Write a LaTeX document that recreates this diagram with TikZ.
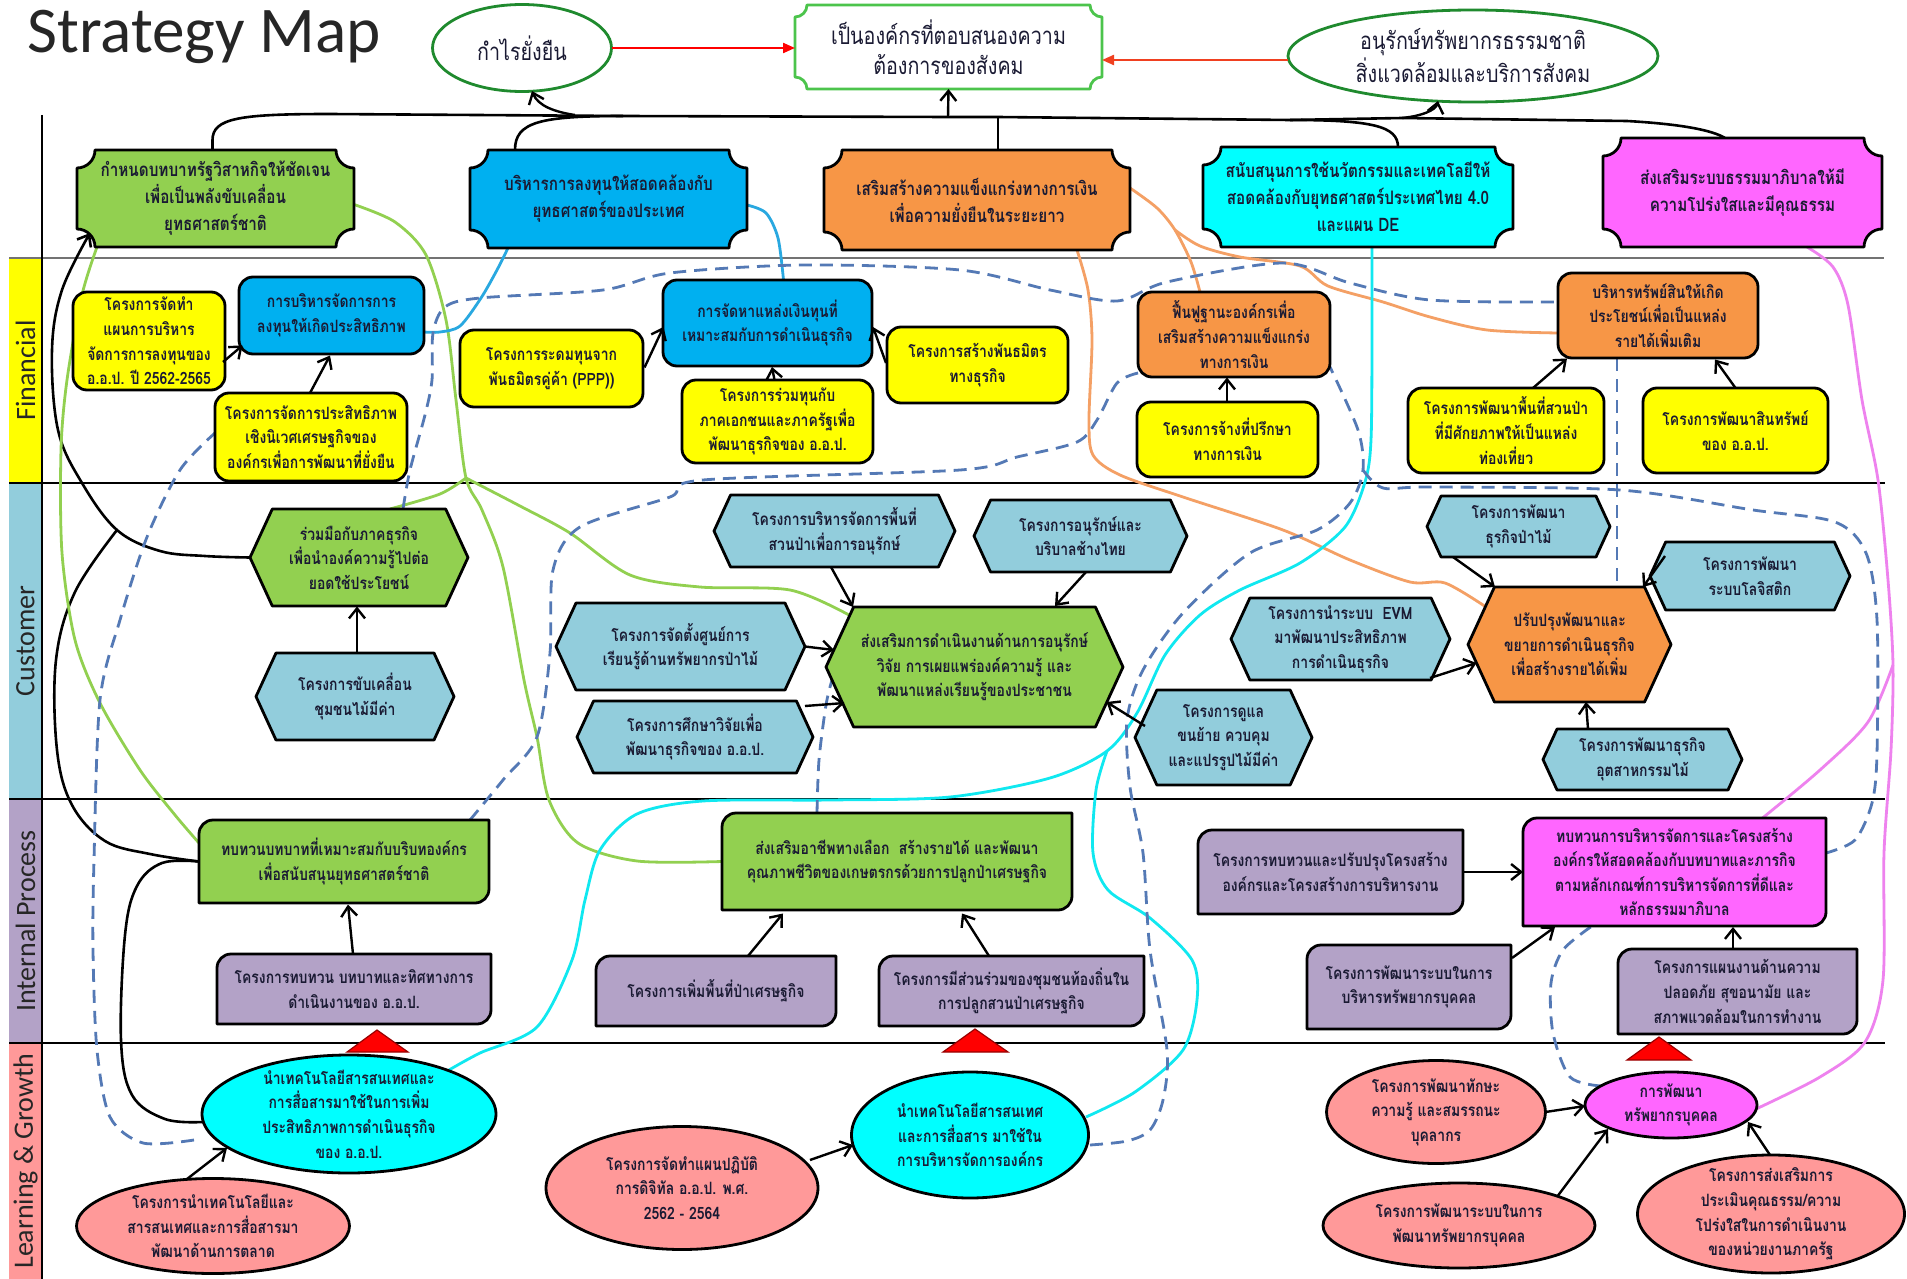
\documentclass[tikz,border=0pt]{standalone}
\usepackage{fontspec}
\setmainfont{Carlito}
\newfontfamily\thai[Script=Thai,FakeStretch=0.82]{Loma}
\usetikzlibrary{calc,arrows.meta}
\pgfdeclarelayer{lanes}
\pgfdeclarelayer{bg}
\pgfsetlayers{lanes,bg,main}
\definecolor{cgreen}{HTML}{92D050}
\definecolor{cblue}{HTML}{00B0F0}
\definecolor{corange}{HTML}{F79646}
\definecolor{ccyan}{HTML}{00FFFF}
\definecolor{cmag}{HTML}{FF66FF}
\definecolor{cyel}{HTML}{FFFF00}
\definecolor{clblue}{HTML}{92CDDC}
\definecolor{cpurp}{HTML}{B3A2C7}
\definecolor{cpink}{HTML}{FF9999}
\definecolor{dgreen}{HTML}{1F8A2E}
\definecolor{bgreen}{HTML}{4CC44C}
\definecolor{txtc}{HTML}{1A1A33}
\definecolor{lgline}{HTML}{92D050}
\definecolor{bline}{HTML}{29A8E0}
\definecolor{oline}{HTML}{F4A065}
\definecolor{cline}{HTML}{10E8F0}
\definecolor{vline}{HTML}{EE82EE}
\definecolor{dline}{HTML}{5479B5}
\definecolor{redA}{HTML}{FF0000}
\definecolor{redB}{HTML}{F04020}
\tikzset{
  sz/.style 2 args={minimum width=#1*0.5pt, minimum height=#2*0.5pt},
  txt/.style={font=\thai\bfseries\fontsize{8.5}{12.3}\selectfont, align=center, text=txtc, inner sep=0pt},
  cur/.style={},
  shapeline/.style={draw=black, line width=1.4pt, line join=round},
  arr/.style={draw=black, line width=1.2pt, -{Straight Barb[length=5pt,width=8pt]}},
  blk/.style={draw=black, line width=1.3pt},
  lgc/.style={draw=lgline, line width=1.4pt},
  bl/.style={draw=bline, line width=1.4pt},
  ol/.style={draw=oline, line width=1.4pt},
  cl/.style={draw=cline, line width=1.4pt},
  vl/.style={draw=vline, line width=1.4pt},
  dsh/.style={draw=dline, line width=1.4pt, dash pattern=on 6.5pt off 4pt},
  lanelbl/.style={rotate=90, font=\fontsize{14}{16}\selectfont, text=black!85},
  redarr/.style={line width=1.1pt, -{Triangle[length=6pt,width=5pt]}},
  tri/.style={fill=red, draw=red!60!black, line width=0.6pt},
}
% name, cx, cy, w, h, fill, text
\newcommand\hexn[7]{%
  \filldraw[shapeline, fill=#6] ({#2-#4/2},{#3}) -- ({#2-#4/2+0.23*#5},{#3-#5/2}) -- ({#2+#4/2-0.23*#5},{#3-#5/2}) -- ({#2+#4/2},{#3}) -- ({#2+#4/2-0.23*#5},{#3+#5/2}) -- ({#2-#4/2+0.23*#5},{#3+#5/2}) -- cycle;
  \node[txt, cur, sz={#4}{#5}] (#1) at (#2,#3) {#7};}
\newcommand\rboxn[7]{%
  \filldraw[shapeline, fill=#6, rounded corners=7pt] ({#2-#4/2},{#3-#5/2}) rectangle ({#2+#4/2},{#3+#5/2});
  \node[txt, cur, sz={#4}{#5}] (#1) at (#2,#3) {#7};}
\newcommand\diagn[7]{%
  \filldraw[shapeline, fill=#6] ({#2-#4/2+14},{#3-#5/2}) -- ({#2+#4/2},{#3-#5/2}) -- ({#2+#4/2},{#3+#5/2-14}) arc[start angle=0, end angle=-90, radius=7pt] -- ({#2-#4/2},{#3+#5/2}) -- ({#2-#4/2},{#3-#5/2+14}) arc[start angle=180, end angle=90, radius=7pt] -- cycle;
  \node[txt, cur, sz={#4}{#5}] (#1) at (#2,#3) {#7};}
% name, cx, cy, w, h, fill, draw, text
\newcommand\elln[8]{%
  \filldraw[line width=1.4pt, draw=#7, fill=#6] (#2,#3) ellipse [x radius={#4*0.25pt}, y radius={#5*0.25pt}];
  \node[txt, cur, sz={#4}{#5}] (#1) at (#2,#3) {#8};}
% name, cx, cy, w, h, fill, draw, r(px), text
\newcommand\plaquen[9]{%
  \filldraw[line width=1.4pt, line join=round, draw=#7, fill=#6] ({#2-#4/2+#8},{#3-#5/2}) -- ({#2+#4/2-#8},{#3-#5/2}) arc[start angle=180,end angle=270,radius={#8*0.5pt}] -- ({#2+#4/2},{#3+#5/2-#8}) arc[start angle=90,end angle=180,radius={#8*0.5pt}] -- ({#2-#4/2+#8},{#3+#5/2}) arc[start angle=0,end angle=90,radius={#8*0.5pt}] -- ({#2-#4/2},{#3-#5/2+#8}) arc[start angle=-90,end angle=0,radius={#8*0.5pt}] -- cycle;
  \node[txt, cur, sz={#4}{#5}] (#1) at (#2,#3) {#9};}

\begin{document}
\begin{tikzpicture}[x=0.5pt,y=-0.5pt]
\useasboundingbox (0,0) rectangle (1907,1279);
\begin{pgfonlayer}{lanes}
\fill[white] (0,0) rectangle (1907,1279);
\fill[cyel] (9,258) rectangle (42,483);
\fill[clblue] (9,483) rectangle (42,799);
\fill[cpurp] (9,799) rectangle (42,1043);
\fill[cpink] (9,1043) rectangle (42,1279);
\draw[black!55, line width=0.9pt] (9,258) -- (1884,258);
\draw[black, line width=1.2pt] (9,483) -- (1885,483);
\draw[black, line width=1.2pt] (9,799) -- (1885,799);
\draw[black, line width=1.2pt] (9,1043) -- (1885,1043);
\draw[black, line width=1.4pt] (42,115) -- (42,1279);
\end{pgfonlayer}

\node[anchor=base west, font=\fontsize{32.6}{38}\selectfont, text=black!85, inner sep=0pt] (title) at (27,53) {Strategy Map};
\node[lanelbl] (lfin) at (25.5,370.5) {Financial};
\node[lanelbl] (lcus) at (25.5,641) {Customer};
\node[lanelbl] (lint) at (25.5,921) {Internal Process};
\node[lanelbl] (llea) at (25.5,1161) {Learning \& Growth};

% top results
\tikzset{cur/.style={font=\thai\fontsize{12}{15}\selectfont}}
\elln{t1}{522}{48}{179}{87}{white}{dgreen}{กำไรยั่งยืน}
\plaquen{t2}{948.5}{47}{307}{84}{white}{bgreen}{12}{เป็นองค์กรที่ตอบสนองความ\\ต้องการของสังคม}
\elln{t3}{1473}{56}{370}{92}{white}{dgreen}{อนุรักษ์ทรัพยากรธรรมชาติ\\สิ่งแวดล้อมและบริการสังคม}

% objectives
\tikzset{cur/.style={font=\thai\bfseries\fontsize{9.3}{13.5}\selectfont}}
\plaquen{n1}{215.5}{198.5}{277}{97}{cgreen}{black}{18}{กำหนดบทบาทรัฐวิสาหกิจให้ชัดเจน\\เพื่อเป็นพลังขับเคลื่อน\\ยุทธศาสตร์ชาติ}
\plaquen{n2}{608.5}{199}{277}{98}{cblue}{black}{18}{บริหารการลงทุนให้สอดคล้องกับ\\ยุทธศาสตร์ของประเทศ}
\plaquen{n3}{977}{200}{306}{100}{corange}{black}{18}{เสริมสร้างความแข็งแกร่งทางการเงิน\\เพื่อความยั่งยืนในระยะยาว}
\plaquen{n4}{1358}{197}{310}{100}{ccyan}{black}{18}{สนับสนุนการใช้นวัตกรรมและเทคโลยีให้\\สอดคล้องกับยุทธศาสตร์ประเทศไทย 4.0\\และแผน DE}
\plaquen{n5}{1742.5}{192.5}{279}{109}{cmag}{black}{18}{ส่งเสริมระบบธรรมมาภิบาลให้มี\\ความโปร่งใสและมีคุณธรรม}
\tikzset{cur/.style={}}

% financial
\rboxn{f1}{149}{341}{152}{98}{cyel}{โครงการจัดทำ\\แผนการบริหาร\\จัดการการลงทุนของ\\อ.อ.ป. ปี 2562-2565}
\rboxn{f2}{331.5}{315.5}{185}{77}{cblue}{การบริหารจัดการการ\\ลงทุนให้เกิดประสิทธิภาพ}
\rboxn{f3}{311}{437}{192}{88}{cyel}{โครงการจัดการประสิทธิภาพ\\เชิงนิเวศเศรษฐกิจของ\\องค์กรเพื่อการพัฒนาที่ยั่งยืน}
\rboxn{f4}{551.5}{368.5}{183}{77}{cyel}{โครงการระดมทุนจาก\\พันธมิตรคู่ค้า (PPP))}
\rboxn{f5}{767.5}{323}{209}{86}{cblue}{การจัดหาแหล่งเงินทุนที่\\เหมาะสมกับการดำเนินธุรกิจ}
\rboxn{f6}{777.5}{421.5}{191}{83}{cyel}{โครงการร่วมทุนกับ\\ภาคเอกชนและภาครัฐเพื่อ\\พัฒนาธุรกิจของ อ.อ.ป.}
\rboxn{f7}{977.5}{365}{181}{76}{cyel}{โครงการสร้างพันธมิตร\\ทางธุรกิจ}
\rboxn{f8}{1234}{334.5}{192}{85}{corange}{ฟื้นฟูฐานะองค์กรเพื่อ\\เสริมสร้างความแข็งแกร่ง\\ทางการเงิน}
\rboxn{f9}{1227.5}{439.5}{181}{75}{cyel}{โครงการจ้างที่ปรึกษา\\ทางการเงิน}
\rboxn{f10}{1658}{315.5}{200}{85}{corange}{บริหารทรัพย์สินให้เกิด\\ประโยชน์เพื่อเป็นแหล่ง\\รายได้เพิ่มเติม}
\rboxn{f11}{1506}{430.5}{196}{85}{cyel}{โครงการพัฒนาพื้นที่สวนป่า\\ที่มีศักยภาพให้เป็นแหล่ง\\ท่องเที่ยว}
\rboxn{f12}{1735.5}{430.5}{185}{85}{cyel}{โครงการพัฒนาสินทรัพย์\\ของ อ.อ.ป.}

% customer
\hexn{c1}{359}{557.5}{218}{97}{cgreen}{ร่วมมือกับภาคธุรกิจ\\เพื่อนำองค์ความรู้ไปต่อ\\ยอดใช้ประโยชน์}
\hexn{c2}{355}{696.5}{198}{87}{clblue}{โครงการขับเคลื่อน\\ชุมชนไม้มีค่า}
\hexn{c3}{834.5}{531}{241}{72}{clblue}{โครงการบริหารจัดการพื้นที่\\สวนป่าเพื่อการอนุรักษ์}
\hexn{c4}{1080.5}{536}{213}{72}{clblue}{โครงการอนุรักษ์และ\\บริบาลช้างไทย}
\hexn{c5}{680.5}{646.5}{249}{87}{clblue}{โครงการจัดตั้งศูนย์การ\\เรียนรู้ด้านทรัพยากรป่าไม้}
\hexn{c6}{695}{737}{236}{72}{clblue}{โครงการศึกษาวิจัยเพื่อ\\พัฒนาธุรกิจของ อ.อ.ป.}
\hexn{c7}{974.5}{667}{297}{120}{cgreen}{ส่งเสริมการดำเนินงานด้านการอนุรักษ์\\วิจัย การเผยแพร่องค์ความรู้ และ\\พัฒนาแหล่งเรียนรู้ของประชาชน}
\hexn{c8}{1223.5}{737.5}{177}{95}{clblue}{โครงการดูแล\\ขนย้าย ควบคุม\\และแปรรูปไม้มีค่า}
\hexn{c9}{1340.5}{639}{219}{82}{clblue}{โครงการนำระบบ~ EVM\\มาพัฒนาประสิทธิภาพ\\การดำเนินธุรกิจ}
\hexn{c10}{1569.5}{644.5}{203}{115}{corange}{ปรับปรุงพัฒนาและ\\ขยายการดำเนินธุรกิจ\\เพื่อสร้างรายได้เพิ่ม}
\hexn{c11}{1518.5}{526.5}{183}{61}{clblue}{โครงการพัฒนา\\ธุรกิจป่าไม้}
\hexn{c12}{1750}{576}{200}{68}{clblue}{โครงการพัฒนา\\ระบบโลจิสติก}
\hexn{c13}{1642.5}{759.5}{199}{61}{clblue}{โครงการพัฒนาธุรกิจ\\อุตสาหกรรมไม้}

% internal process
\diagn{i1}{344}{861.5}{290}{83}{cgreen}{ทบทวนบทบาทที่เหมาะสมกับบริบทองค์กร\\เพื่อสนับสนุนยุทธศาสตร์ชาติ}
\diagn{i2}{897}{861.5}{350}{97}{cgreen}{ส่งเสริมอาชีพทางเลือก~ สร้างรายได้ และพัฒนา\\คุณภาพชีวิตของเกษตรกรด้วยการปลูกป่าเศรษฐกิจ}
\diagn{i3}{1330.5}{872}{265}{84}{cpurp}{โครงการทบทวนและปรับปรุงโครงสร้าง\\องค์กรและโครงสร้างการบริหารงาน}
\diagn{i4}{1674.5}{872}{303}{108}{cmag}{ทบทวนการบริหารจัดการและโครงสร้าง\\องค์กรให้สอดคล้องกับบทบาทและภารกิจ\\ตามหลักเกณฑ์การบริหารจัดการที่ดีและ\\หลักธรรมมาภิบาล}
\diagn{i5}{354}{989}{274}{70}{cpurp}{โครงการทบทวน บทบาทและทิศทางการ\\ดำเนินงานของ อ.อ.ป.}
\diagn{i6}{716}{991}{240}{70}{cpurp}{โครงการเพิ่มพื้นที่ป่าเศรษฐกิจ}
\diagn{i7}{1011.5}{991}{265}{70}{cpurp}{โครงการมีส่วนร่วมของชุมชนท้องถิ่นใน\\การปลูกสวนป่าเศรษฐกิจ}
\diagn{i8}{1409}{987}{204}{84}{cpurp}{โครงการพัฒนาระบบในการ\\บริหารทรัพยากรบุคคล}
\diagn{i9}{1737.5}{991.5}{239}{85}{cpurp}{โครงการแผนงานด้านความ\\ปลอดภัย สุขอนามัย และ\\สภาพแวดล้อมในการทำงาน}

% learning & growth
\elln{l1}{349}{1114}{294}{118}{ccyan}{black}{นำเทคโนโลยีสารสนเทศและ\\การสื่อสารมาใช้ในการเพิ่ม\\ประสิทธิภาพการดำเนินธุรกิจ\\ของ อ.อ.ป.}
\elln{l2}{213}{1226}{273}{95}{cpink}{black}{โครงการนำเทคโนโลยีและ\\สารสนเทศและการสื่อสารมา\\พัฒนาด้านการตลาด}
\elln{l3}{970}{1135}{237}{126}{ccyan}{black}{นำเทคโนโลยีสารสนเทศ\\และการสื่อสาร มาใช้ใน\\การบริหารจัดการองค์กร}
\elln{l4}{682}{1188}{272}{123}{cpink}{black}{โครงการจัดทำแผนปฏิบัติ\\การดิจิทัล อ.อ.ป. พ.ศ.\\2562 - 2564}
\elln{l5}{1436}{1112}{219}{103}{cpink}{black}{โครงการพัฒนาทักษะ\\ความรู้ และสมรรถนะ\\บุคลากร}
\elln{l6}{1671}{1105}{172}{66}{cmag}{black}{การพัฒนา\\ทรัพยากรบุคคล}
\elln{l7}{1459}{1225.5}{272}{85}{cpink}{black}{โครงการพัฒนาระบบในการ\\พัฒนาทรัพยากรบุคคล}
\elln{l8}{1771}{1214}{267}{118}{cpink}{black}{โครงการส่งเสริมการ\\ประเมินคุณธรรม/ความ\\โปร่งใสในการดำเนินงาน\\ของหน่วยงานภาครัฐ}

% triangles
\filldraw[tri] (347,1052) -- (377,1030) -- (408,1052) -- cycle;
\filldraw[tri] (943,1052) -- (975,1029) -- (1008,1052) -- cycle;
\filldraw[tri] (1627,1060) -- (1659,1037) -- (1691,1060) -- cycle;

% background connectors
\begin{pgfonlayer}{bg}
\coordinate (busL) at (330,114);
\coordinate (busM) at (623,116);
\coordinate (bus) at (948,117);
\coordinate (busN) at (998,117);
\coordinate (busP) at (1290,120);
\coordinate (busQ) at (1402,118);
\coordinate (busR) at (1627,121);
\coordinate (busA) at (575,115);
\draw[blk] ($(n1)+(-3,-48.5)$) -- (212.5,140) .. controls (212.5,118) and (240,114) .. (busL) -- (busM) -- (bus) -- (busN) -- (busP) -- (busQ) -- (busR) .. controls (1680,124) and (1712,130) .. ($(n5)+(-17.5,-54.5)$);
\draw[blk] ($(n2)+(-93.5,-49)$) .. controls (515,122) and (540,116) .. (busM);
\draw[blk] ($(n3)+(21,-50)$) -- (busN);
\draw[blk] ($(n4)+(40,-50)$) .. controls (1398,126) and (1372,120) .. (busP);

% black left curves
\coordinate (eA1) at ($(c1)+(-109,0)$);
\coordinate (eA2) at ($(n1)+(-125.5,34.5)$);
\coordinate (jA) at (117,530);
\draw[blk,-{Straight Barb[length=5pt,width=8pt]}] plot[smooth,tension=0.6] coordinates {(eA1) (205,556) (160,551) (jA) (82,483) (58,430) (52,350) (62,290) (eA2)};
\coordinate (eB1) at ($(i1)+(-145,0)$);
\draw[blk] plot[smooth,tension=0.6] coordinates {(eB1) (150,854) (105,841) (72,805) (57,750) (56,660) (75,592) (jA)};
\coordinate (eC2) at ($(l1)+(-146,8)$);
\draw[blk] plot[smooth,tension=0.6] coordinates {(eB1) (162,863) (137,886) (125,935) (121,1040) (132,1095) (165,1119) (eC2)};

% green
\coordinate (g1s) at ($(n1)+(-118.5,48.5)$);
\coordinate (g1e) at ($(i1)+(-145,-18.5)$);
\draw[lgc] plot[smooth] coordinates {(g1s) (82,295) (67,380) (61,450) (62,553) (75,640) (100,703) (140,770) (175,815) (g1e)};
\coordinate (g2s) at ($(n1)+(138.5,6)$);
\coordinate (gB) at (466,478);
\coordinate (eI2w) at ($(i2)+(-175,0)$);
\draw[lgc] plot[smooth] coordinates {(g2s) (395,222) (426,255) (446,320) (456,400) (gB) (482,510) (503,567) (524,680) (537,737) (549,800) (578,843) (637,861) (eI2w)};
\coordinate (g3e) at ($(c1)+(31,-48.5)$);
\draw[lgc] plot[smooth] coordinates {(gB) (440,494) (g3e)};
\coordinate (g4e) at ($(c7)+(-125.5,-52)$);
\draw[lgc] plot[smooth] coordinates {(gB) (520,506) (570,533) (630,575) (700,587) (790,590) (g4e)};

% blue
\coordinate (b1s) at ($(n2)+(-100.5,49)$);
\coordinate (b1e) at ($(f2)+(92.5,16.5)$);
\draw[bl] plot[smooth] coordinates {(b1s) (497,270) (481,298) (460,326) (440,332) (b1e)};
\coordinate (b2s) at ($(n2)+(138.5,6)$);
\coordinate (b2e) at ($(f5)+(16,-43)$);
\draw[bl] plot[smooth] coordinates {(b2s) (766,213) (778,238) (b2e)};

% orange
\coordinate (o1s) at ($(n3)+(100,50)$);
\coordinate (o1e) at ($(c10)+(-83.5,-37.5)$);
\draw[ol] plot[smooth] coordinates {(o1s) (1088,290) (1092,340) (1089,420) (1093,455) (1120,475) (1183,497) (1283,530) (1350,560) (1410,582) (1445,583) (o1e)};
\coordinate (o2s) at ($(n3)+(153,-12)$);
\coordinate (oB) at (1175,230);
\coordinate (o2e) at ($(f8)+(-34,-42.5)$);
\draw[ol] plot[smooth] coordinates {(o2s) (1157,208) (oB) (1191,262) (o2e)};
\coordinate (o3e) at ($(f10)+(-100,17.5)$);
\draw[ol] plot[smooth] coordinates {(oB) (1200,246) (1240,257) (1300,266) (1328,286) (1383,302) (1430,317) (1487,330) (o3e)};

% cyan
\coordinate (cy1s) at ($(n4)+(14,50)$);
\coordinate (cB) at (1107,751);
\coordinate (cy1e) at ($(l1)+(100,-44)$);
\draw[cl] plot[smooth] coordinates {(cy1s) (1372,340) (1371,440) (1365,482) (1345,527) (1300,563) (1240,590) (1200,615) (1165,655) (1137,713) (cB) (1050,778) (950,797) (830,800) (703,801) (637,814) (600,850) (585,900) (572,960) (537,1027) (480,1053) (cy1e)};
\coordinate (cy2e) at ($(l3)+(116,-18)$);
\draw[cl] plot[smooth] coordinates {(cB) (1096,790) (1093,853) (1108,890) (1150,918) (1192,960) (1197,1000) (1183,1050) (1135,1092) (cy2e)};

% violet
\coordinate (v1s) at ($(n5)+(64.5,54.5)$);
\coordinate (vB) at (1893,665);
\coordinate (v1e) at ($(i4)+(88,-54)$);
\coordinate (v2e) at ($(l6)+(85,4)$);
\draw[vl] plot[smooth] coordinates {(v1s) (1833,267) (1848,305) (1862,400) (1878,480) (1888,580) (vB) (1891,750) (1884,853) (1883,980) (1865,1042) (1820,1077) (v2e)};
\draw[vl] plot[smooth] coordinates {(vB) (1868,722) (1820,770) (v1e)};

% dashed
\coordinate (d1s) at ($(l1)+(-155,26)$);
\coordinate (d1e) at ($(f3)+(-96,-4)$);
\draw[dsh] plot[smooth] coordinates {(d1s) (143,1143) (110,1117) (97,1050) (93,950) (94,860) (100,700) (120,620) (147,537) (180,470) (d1e)};
\coordinate (d2s) at ($(c1)+(44,-48.5)$);
\coordinate (d2e) at ($(f10)+(-100,-13.5)$);
\draw[dsh] plot[smooth] coordinates {(d2s) (410,470) (425,415) (432,380) (433,333) (445,307) (480,298) (603,290) (670,273) (803,265) (960,270) (1050,290) (1117,301) (1167,282) (1283,263) (1350,283) (1430,300) (d2e)};
\coordinate (d3s) at ($(f8)+(-96,38.5)$);
\coordinate (d3e) at ($(i1)+(126,-41.5)$);
\draw[dsh] plot[smooth] coordinates {(d3s) (1117,383) (1097,420) (1077,442) (1017,457) (960,470) (703,480) (670,497) (580,527) (553,570) (550,653) (537,737) (503,780) (d3e)};
\coordinate (d4s) at ($(l3)+(120,10)$);
\coordinate (dB) at (1363,470);
\coordinate (d4e) at ($(f8)+(96,32.5)$);
\draw[dsh] plot[smooth] coordinates {(d4s) (1127,1141) (1150,1130) (1163,1100) (1167,1050) (1150,950) (1143,853) (1130,787) (1127,720) (1143,670) (1183,613) (1250,553) (1317,530) (1350,503) (dB) (1358,430) (d4e)};
\coordinate (d5e) at ($(i4)+(151.5,-19)$);
\draw[dsh] plot[smooth] coordinates {(dB) (1383,488) (1430,487) (1620,490) (1753,510) (1835,522) (1866,553) (1877,620) (1877,753) (1872,803) (1855,840) (d5e)};
\coordinate (d6s) at ($(i2)+(-80,-48.5)$);
\coordinate (d6e) at ($(c7)+(-142.5,13)$);
\draw[dsh] plot[smooth] coordinates {(d6s) (819,760) (826,705) (d6e)};
\coordinate (d7s) at ($(l6)+(-70,-19)$);
\coordinate (d7e) at ($(i4)+(-82.5,54)$);
\draw[dsh] plot[smooth] coordinates {(d7s) (1570,1077) (1553,1033) (1551,983) (1563,950) (d7e)};
\draw[dsh] ($(f10)+(-41,42.5)$) -- ($(c10)+(47.5,-57.5)$);
\end{pgfonlayer}

% top arrows
\draw[redarr, draw=redA] ($(t1)+(89.5,0)$) -- ($(t2)+(-153.5,1)$);
\draw[redarr, draw=redB] ($(t3)+(-185,4)$) -- ($(t2)+(153.5,13)$);
\draw[arr] (busA) .. controls (555,112) and (538,106) .. ($(t1)+(10,43)$);
\draw[arr] (bus) -- ($(t2)+(0,42)$);
\draw[arr] (busQ) .. controls (1422,116) and (1436,110) .. ($(t3)+(-35,45)$);

% black arrows
\draw[arr] ($(f1)+(74,21)$) -- ($(f2)+(-89,30)$);
\draw[arr] ($(f3)+(-1,-44)$) -- ($(f2)+(-1.5,40)$);
\draw[arr] ($(f4)+(93,-1)$) -- ($(f5)+(-104,4)$);
\draw[arr] ($(f6)+(-3,-41.5)$) -- ($(f5)+(4.5,44)$);
\draw[arr] ($(f7)+(-91.5,-2)$) -- ($(f5)+(105.5,4)$);
\draw[arr] ($(f9)+(-0.5,-37.5)$) -- ($(f8)+(-7,43)$);
\draw[arr] ($(f11)+(27,-42.5)$) -- ($(f10)+(-91,43)$);
\draw[arr] ($(f12)+(0,-42.5)$) -- ($(f10)+(57,44)$);
\draw[arr] ($(c2)+(2,-43.5)$) -- ($(c1)+(-2,49)$);
\draw[arr] ($(c3)+(-3.5,36)$) -- ($(c7)+(-121.5,-60)$);
\draw[arr] ($(c4)+(5.5,36)$) -- ($(c7)+(80.5,-61)$);
\draw[arr] ($(c5)+(124.5,0)$) -- ($(c7)+(-140.5,-17)$);
\draw[arr] ($(c6)+(110,-31)$) -- ($(c7)+(-130,36)$);
\draw[arr] ($(c8)+(-78.5,-11.5)$) -- ($(c7)+(132,35)$);
\draw[arr] ($(c9)+(89.5,39)$) -- ($(c10)+(-93,18.5)$);
\draw[arr] ($(c11)+(-65.5,30.5)$) -- ($(c10)+(-74.5,-57.5)$);
\draw[arr] ($(c12)+(-85,-20)$) -- ($(c10)+(73.5,-57.5)$);
\draw[arr] ($(c13)+(-54.5,-30.5)$) -- ($(c10)+(16.5,57.5)$);
\draw[arr] ($(i5)+(-1,-35)$) -- ($(i1)+(4,43)$);
\draw[arr] ($(i6)+(32,-35)$) -- ($(i2)+(-114,52)$);
\draw[arr] ($(i7)+(-22.5,-35)$) -- ($(i2)+(65,52)$);
\draw[arr] ($(i3)+(132.5,0)$) -- ($(i4)+(-151.5,0)$);
\draw[arr] ($(i8)+(103,-29)$) -- ($(i4)+(-119.5,55)$);
\draw[arr] ($(i9)+(-4.5,-42.5)$) -- ($(i4)+(58.5,55)$);
\draw[arr] ($(l2)+(-26,-47)$) -- ($(l1)+(-122,34)$);
\draw[arr] ($(l4)+(128,-28)$) -- ($(l3)+(-117,10)$);
\draw[arr] ($(l5)+(109.5,0)$) -- ($(l6)+(-86,1)$);
\draw[arr] ($(l7)+(99,-30)$) -- ($(l6)+(-63,24)$);
\draw[arr] ($(l8)+(-1,-59)$) -- ($(l6)+(77,17)$);
\end{tikzpicture}
\end{document}
